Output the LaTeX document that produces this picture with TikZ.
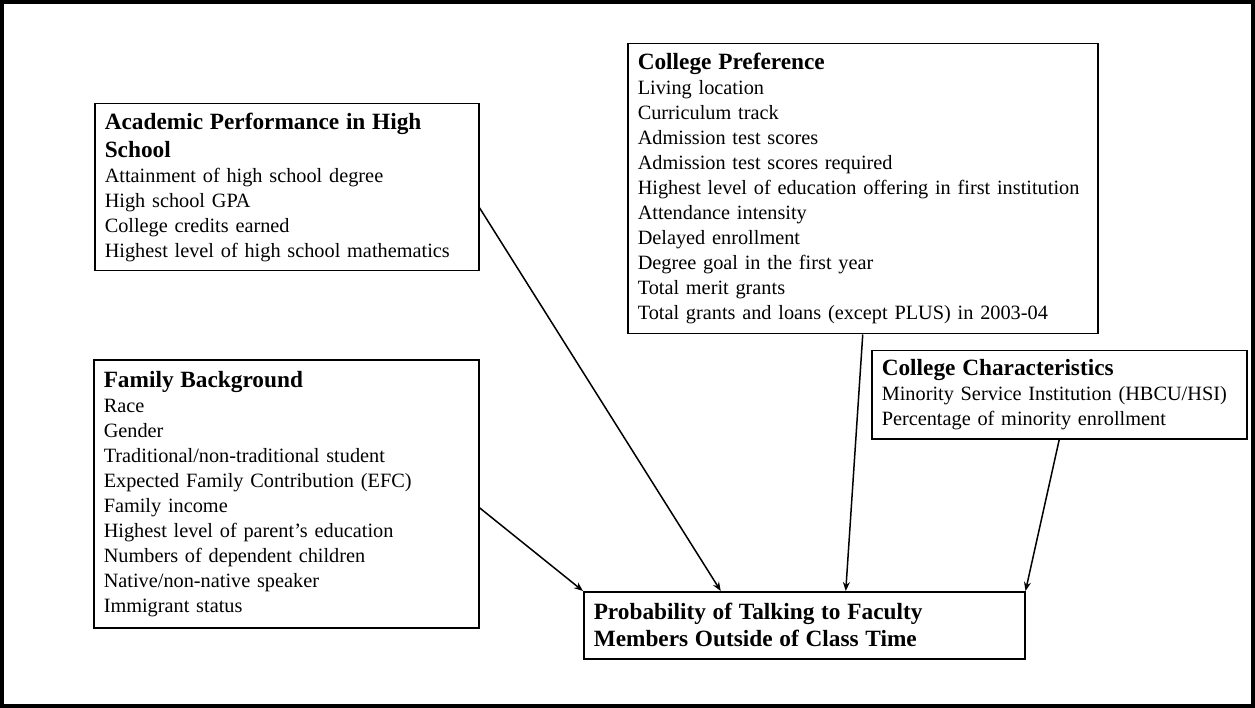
\documentclass[tikz,border=0pt]{standalone}
\usepackage{fontspec}
\setmainfont{Liberation Serif}
\usetikzlibrary{arrows.meta}
\tikzset{
  box/.style={draw=black, line width=1.5pt, anchor=north west, align=left,
    inner xsep=10pt, inner ysep=0pt, font=\fontsize{20.3}{25}\selectfont},
  conn/.style={line width=1.5pt, -{Stealth[length=9pt,width=7pt]}}
}
\newcommand{\hd}[1]{{\fontsize{23.3}{28}\selectfont\bfseries #1}}
\begin{document}
\begin{tikzpicture}[x=1pt,y=-1pt]
\useasboundingbox (0,0) rectangle (1255,708);
\draw[line width=4pt] (2,2) rectangle (1253,706);

\node[box, text width=364pt, minimum height=167pt] (acad) at (94,103)
 {\hd{Academic Performance in High}\\[3pt]\hd{School}\\
  Attainment of high school degree\\
  High school GPA\\
  College credits earned\\
  Highest level of high school mathematics};

\node[box, text width=365pt, minimum height=268pt] (fam) at (93,359)
 {\hd{Family Background}\\
  Race\\
  Gender\\
  Traditional/non-traditional student\\
  Expected Family Contribution (EFC)\\
  Family income\\
  Highest level of parent’s education\\
  Numbers of dependent children\\
  Native/non-native speaker\\
  Immigrant status};

\node[box, text width=450pt, minimum height=290pt] (pref) at (627,43)
 {\hd{College Preference}\\
  Living location\\
  Curriculum track\\
  Admission test scores\\
  Admission test scores required\\
  \mbox{Highest level of education offering in first institution}\\
  Attendance intensity\\
  Delayed enrollment\\
  Degree goal in the first year\\
  Total merit grants\\
  \mbox{Total grants and loans (except PLUS) in 2003-04}};

\node[box, text width=355pt, minimum height=88pt] (char) at (871,350)
 {\hd{College Characteristics}\\
  Minority Service Institution (HBCU/HSI)\\
  Percentage of minority enrollment};

\node[box, text width=421pt, minimum height=67pt] (prob) at (583,591)
 {\hd{Probability of Talking to Faculty}\\[2pt]
  \hd{Members Outside of Class Time}};

\draw[conn] ([yshift=-20.5pt]acad.east) -- ([xshift=-83.5pt]prob.north);
\draw[conn] ([yshift=-14pt]fam.east) -- (prob.north west);
\draw[conn] (pref.south) -- ([xshift=41.5pt]prob.north);
\draw[conn] (char.south) -- (prob.north east);
\end{tikzpicture}
\end{document}
